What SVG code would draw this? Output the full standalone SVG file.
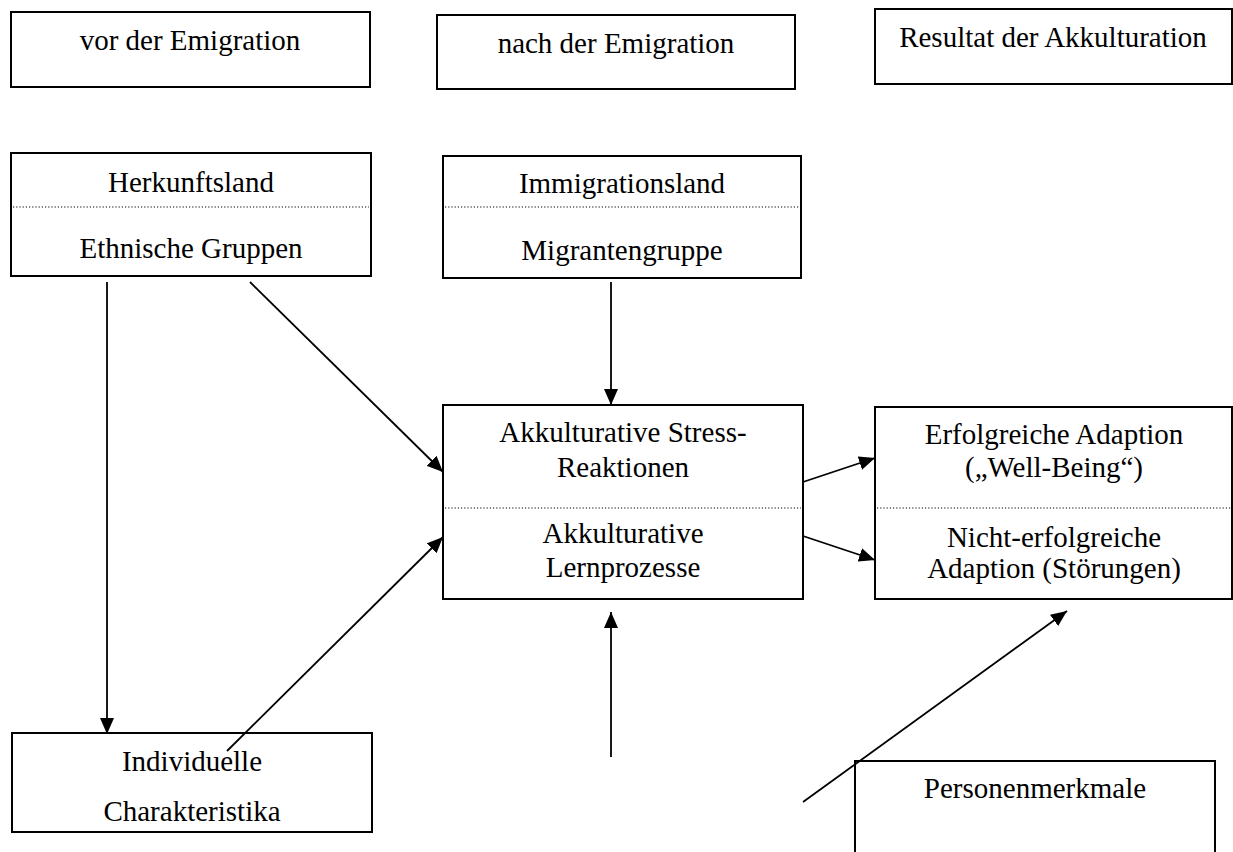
<svg xmlns="http://www.w3.org/2000/svg" width="1233" height="852" viewBox="0 0 1233 852">
<style>
.box{fill:#fff;stroke:#000;stroke-width:2}
.dot{stroke:#000;stroke-width:1.2;stroke-dasharray:1.2 2;fill:none}
text{font-family:"Liberation Serif","Times New Roman",serif;font-size:29px;fill:#000;text-anchor:middle}
.con line{stroke:#000;stroke-width:1.8;fill:none;marker-end:url(#ah)}
</style>
<defs>
<marker id="ah" viewBox="0 0 16 14" refX="16" refY="7" markerWidth="16" markerHeight="14" markerUnits="userSpaceOnUse" orient="auto">
<path d="M0,0 L16,7 L0,14 z" fill="#000"/>
</marker>
</defs>
<rect width="1233" height="852" fill="#fff"/>
<g id="vor">
<rect class="box" x="11" y="12" width="359" height="75"/>
<text x="190" y="50">vor der Emigration</text>
</g>
<g id="nach">
<rect class="box" x="437" y="15" width="358" height="74"/>
<text x="616" y="53">nach der Emigration</text>
</g>
<g id="resultat">
<rect class="box" x="875" y="9" width="357" height="75"/>
<text x="1053" y="47">Resultat der Akkulturation</text>
</g>
<g id="herkunft">
<rect class="box" x="11" y="153" width="360" height="123"/>
<line class="dot" x1="13" y1="207" x2="369" y2="207"/>
<text x="191" y="192">Herkunftsland</text>
<text x="191" y="258">Ethnische Gruppen</text>
</g>
<g id="immigration">
<rect class="box" x="443" y="156" width="358" height="122"/>
<line class="dot" x1="445" y1="207" x2="799" y2="207"/>
<text x="622" y="193">Immigrationsland</text>
<text x="622" y="260">Migrantengruppe</text>
</g>
<g id="akkulturation">
<rect class="box" x="443" y="405" width="360" height="194"/>
<line class="dot" x1="445" y1="508" x2="801" y2="508"/>
<text x="623" y="442">Akkulturative Stress-</text>
<text x="623" y="477">Reaktionen</text>
<text x="623" y="543">Akkulturative</text>
<text x="623" y="577">Lernprozesse</text>
</g>
<g id="adaption">
<rect class="box" x="875" y="407" width="357" height="192"/>
<line class="dot" x1="877" y1="508" x2="1231" y2="508"/>
<text x="1054" y="444">Erfolgreiche Adaption</text>
<text x="1054" y="477">(„Well-Being“)</text>
<text x="1054" y="547">Nicht-erfolgreiche</text>
<text x="1054" y="578">Adaption (Störungen)</text>
</g>
<g id="individuell">
<rect class="box" x="12" y="733" width="360" height="99"/>
<text x="192" y="771">Individuelle</text>
<text x="192" y="821">Charakteristika</text>
</g>
<g id="person">
<rect class="box" x="855" y="761" width="360" height="100"/>
<text x="1035" y="798">Personenmerkmale</text>
</g>
<g id="connectors" class="con">
<line x1="107" y1="282" x2="107" y2="734"/>
<line x1="250" y1="282" x2="443" y2="472"/>
<line x1="611" y1="282" x2="611" y2="405"/>
<line x1="227" y1="751" x2="443" y2="537"/>
<line x1="611" y1="757" x2="611" y2="612"/>
<line x1="803" y1="482" x2="875" y2="458"/>
<line x1="803" y1="536" x2="875" y2="560"/>
<line x1="803" y1="802" x2="1067" y2="611"/>
</g>
</svg>
